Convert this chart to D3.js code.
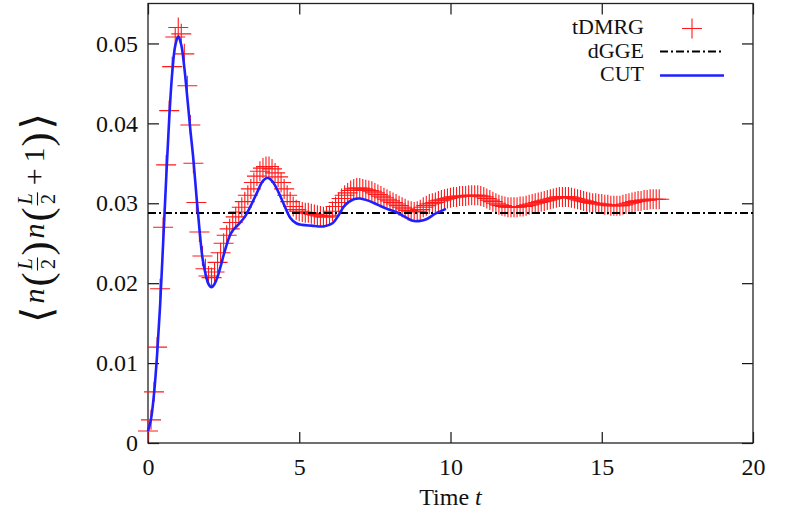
<!DOCTYPE html>
<html>
<head>
<meta charset="utf-8">
<script src="https://cdn.jsdelivr.net/npm/d3@7"></script>
<style>
  body { margin: 0; background: #fff; }
  text { font-family: "Liberation Serif", "DejaVu Serif", serif; fill: #111; }
</style>
</head>
<body>
<svg id="chart" width="787" height="516"></svg>
<script>
// tDMRG samples, one every 0.1 in time starting at t = 0
const tdmrgStep = 0.1;
const tdmrgValue = [
  0.0015, 0.0029, 0.0064, 0.0120, 0.0193, 0.0270, 0.0348, 0.0416, 0.0471, 0.0508,
  0.0520, 0.0512, 0.0487, 0.0447, 0.0398, 0.0350, 0.0301, 0.0264, 0.0234, 0.0218,
  0.0209, 0.0207, 0.0214, 0.0226, 0.0238, 0.0250, 0.0260, 0.0268, 0.0276, 0.0283,
  0.0289, 0.0295, 0.0302, 0.0310, 0.0318, 0.0326, 0.0334, 0.0340, 0.0344, 0.0346,
  0.0346, 0.0343, 0.0338, 0.0333, 0.0326, 0.0318, 0.0310, 0.0302, 0.0296, 0.0292,
  0.0290, 0.0289, 0.0288, 0.0288, 0.0287, 0.0286, 0.0285, 0.0284, 0.0283, 0.0283,
  0.0285, 0.0290, 0.0296, 0.0301, 0.0306, 0.0310, 0.0313, 0.0316, 0.0318, 0.0319,
  0.0319, 0.0318, 0.0317, 0.0316, 0.0315, 0.0313, 0.0311, 0.0309, 0.0307, 0.0305,
  0.0303, 0.0301, 0.0299, 0.0297, 0.0295, 0.0293, 0.0291, 0.0290, 0.0289, 0.0290,
  0.0292, 0.0295, 0.0297, 0.0299, 0.0300, 0.0301, 0.0303, 0.0304, 0.0305, 0.0306,
  0.0307, 0.0308, 0.0308, 0.0309, 0.0309, 0.0309, 0.0310, 0.0310, 0.0310, 0.0310,
  0.0309, 0.0308, 0.0306, 0.0304, 0.0302, 0.0300, 0.0298, 0.0297, 0.0296, 0.0295,
  0.0295, 0.0295, 0.0295, 0.0296, 0.0296, 0.0297, 0.0298, 0.0299, 0.0300, 0.0301,
  0.0302, 0.0303, 0.0304, 0.0305, 0.0306, 0.0307, 0.0308, 0.0308, 0.0308, 0.0308,
  0.0307, 0.0306, 0.0305, 0.0304, 0.0303, 0.0302, 0.0301, 0.0300, 0.0300, 0.0299,
  0.0299, 0.0298, 0.0298, 0.0297, 0.0297, 0.0297, 0.0297, 0.0298, 0.0299, 0.0300,
  0.0301, 0.0302, 0.0303, 0.0303, 0.0304, 0.0304, 0.0305, 0.0305, 0.0305, 0.0305
];

const cutTime = [
  0, 0.1, 0.2, 0.3, 0.4, 0.5, 0.6, 0.7, 0.8, 0.9,
  1.0, 1.1, 1.2, 1.3, 1.4, 1.5, 1.6, 1.7, 1.8, 1.9,
  2.0, 2.1, 2.2, 2.3, 2.4, 2.5, 2.6, 2.7, 2.8, 2.9,
  3.0, 3.2, 3.4, 3.6, 3.8, 3.95, 4.1, 4.3, 4.5, 4.7,
  4.9, 5.1, 5.4, 5.8, 6.1, 6.3, 6.5, 6.8, 7.0, 7.3,
  7.6, 7.9, 8.2, 8.5, 8.75, 9.0, 9.2, 9.5, 9.85
];
const cutValue = [
  0.0015, 0.0030, 0.0062, 0.0110, 0.0172, 0.0250, 0.0330, 0.0405, 0.0463, 0.0497,
  0.0509, 0.0498, 0.0470, 0.0432, 0.0392, 0.0355, 0.0310, 0.0268, 0.0232, 0.0212,
  0.0199, 0.0195, 0.0199, 0.0208, 0.0221, 0.0235, 0.0248, 0.0259, 0.0266, 0.0270,
  0.0274, 0.0283, 0.0297, 0.0313, 0.0328, 0.0332, 0.0328, 0.0315, 0.0298, 0.0282,
  0.0275, 0.0273, 0.0272, 0.0271, 0.0275, 0.0285, 0.0297, 0.0305, 0.0306, 0.0303,
  0.0298, 0.0293, 0.0289, 0.0283, 0.0278, 0.0278, 0.0280, 0.0287, 0.0293
];

// dGGE constant
const dggeValue = 0.02879;

const xTicks = [0, 5, 10, 15, 20];
const yTicks = [0, 0.01, 0.02, 0.03, 0.04, 0.05];
const legendLabels = ['tDMRG', 'dGGE', 'CUT'];

const width = 787;
const height = 516;
const margin = { top: 3.5, right: 34, bottom: 73, left: 148 };
const tickLen = 11;

const svg = d3.select('#chart');

const x = d3.scaleLinear().domain([0, 20]).range([margin.left, width - margin.right]);
const y = d3.scaleLinear().domain([0, 0.055]).range([height - margin.bottom, margin.top]);

// axes, ticks pointing inward and mirrored on top / right
const xAxis = d3.axisBottom(x).tickValues(xTicks).tickSizeInner(-tickLen).tickSizeOuter(0).tickPadding(15);
const yAxis = d3.axisLeft(y).tickValues(yTicks).tickSizeInner(-tickLen).tickSizeOuter(0).tickPadding(10)
  .tickFormat((d) => d === 0 ? '0' : d3.format('.2f')(d));

svg.append('g').attr('transform', 'translate(0,' + y(0) + ')').call(xAxis);
svg.append('g').attr('transform', 'translate(' + x(0) + ',0)').call(yAxis);
svg.append('g').attr('transform', 'translate(0,' + y.range()[1] + ')')
  .call(d3.axisTop(x).tickValues(xTicks).tickSizeInner(-tickLen).tickSizeOuter(0).tickFormat(''));
svg.append('g').attr('transform', 'translate(' + x(20) + ',0)')
  .call(d3.axisRight(y).tickValues(yTicks).tickSizeInner(-tickLen).tickSizeOuter(0).tickFormat(''));

svg.selectAll('.domain').remove();
svg.selectAll('.tick line').attr('stroke', '#111').attr('stroke-width', 1.2);
svg.selectAll('.tick text').attr('font-family', '"Liberation Serif", serif').attr('font-size', 24).attr('fill', '#111');

// frame
svg.append('rect')
  .attr('x', x(0)).attr('y', y.range()[1])
  .attr('width', x(20) - x(0)).attr('height', y(0) - y.range()[1])
  .attr('fill', 'none').attr('stroke', '#222').attr('stroke-width', 1.3);

// tDMRG crosses
const crossHalf = 10;
function crossPath(cx, cy) {
  return 'M' + (cx - crossHalf) + ',' + cy + 'h' + (2 * crossHalf) +
    'M' + cx + ',' + (cy - crossHalf) + 'v' + (2 * crossHalf);
}
svg.append('g')
  .selectAll('path')
  .data(tdmrgValue)
  .join('path')
  .attr('d', (d, i) => crossPath(x(i * tdmrgStep), y(d)))
  .attr('stroke', '#ff1a1a')
  .attr('stroke-width', 1.1)
  .attr('fill', 'none');

// dGGE line
svg.append('line')
  .attr('x1', x(0)).attr('x2', x(20))
  .attr('y1', y(dggeValue)).attr('y2', y(dggeValue))
  .attr('stroke', '#000').attr('stroke-width', 2)
  .attr('stroke-dasharray', '8,3,2,3');

// CUT line
const cutLine = d3.line()
  .x((d, i) => x(cutTime[i]))
  .y((d) => y(d))
  .curve(d3.curveCatmullRom.alpha(0.5));
svg.append('path')
  .datum(cutValue)
  .attr('d', cutLine)
  .attr('fill', 'none')
  .attr('stroke', '#1f1fff')
  .attr('stroke-width', 2.6)
  .attr('stroke-linejoin', 'round');

// legend
const legendX = 644;
const legendY = [34, 57.5, 80.5];
const legend = svg.append('g');
legendLabels.forEach((label, i) => {
  legend.append('text')
    .attr('x', legendX).attr('y', legendY[i])
    .attr('text-anchor', 'end')
    .attr('font-size', 22)
    .text(label);
});
legend.append('path').attr('d', crossPath(692, legendY[0] - 5.5))
  .attr('stroke', '#ff1a1a').attr('stroke-width', 1.1);
legend.append('line')
  .attr('x1', 660).attr('x2', 724).attr('y1', legendY[1] - 6).attr('y2', legendY[1] - 6)
  .attr('stroke', '#000').attr('stroke-width', 2).attr('stroke-dasharray', '8,3,2,3');
legend.append('line')
  .attr('x1', 660).attr('x2', 724).attr('y1', legendY[2] - 5).attr('y2', legendY[2] - 5)
  .attr('stroke', '#1f1fff').attr('stroke-width', 2.6);

// x label
const xlab = svg.append('text')
  .attr('x', (x(0) + x(20)) / 2).attr('y', 505)
  .attr('text-anchor', 'middle')
  .attr('font-size', 24);
xlab.append('tspan').text('Time ');
xlab.append('tspan').attr('font-style', 'italic').text('t');

// y label: <n(L/2) n(L/2+1)>, laid out piece by piece, then rotated
const ylab = svg.append('g');
const pieces = [
  { t: '\u27E8', size: 42, dy: 7, font: '"DejaVu Serif", serif', gap: 3 },
  { t: 'n', size: 30, italic: true, gap: 2 },
  { t: '(', size: 42, dy: 7, gap: 1 },
  { frac: ['L', '2'], gap: 1 },
  { t: ')', size: 42, dy: 7, gap: 3 },
  { t: 'n', size: 30, italic: true, gap: 2 },
  { t: '(', size: 42, dy: 7, gap: 1 },
  { frac: ['L', '2'], gap: 6 },
  { t: '+', size: 30, gap: 6 },
  { t: '1', size: 30, gap: 1 },
  { t: ')', size: 42, dy: 7, gap: 3 },
  { t: '\u27E9', size: 42, dy: 7, font: '"DejaVu Serif", serif', gap: 0 }
];
let cursor = 0;
pieces.forEach((p) => {
  if (p.frac) {
    const num = ylab.append('text').attr('x', cursor).attr('y', -12)
      .attr('font-size', 20).attr('font-style', 'italic').text(p.frac[0]);
    const den = ylab.append('text').attr('x', cursor).attr('y', 11)
      .attr('font-size', 20).text(p.frac[1]);
    const w = Math.max(num.node().getComputedTextLength(), den.node().getComputedTextLength()) + 4;
    num.attr('x', cursor + (w - num.node().getComputedTextLength()) / 2);
    den.attr('x', cursor + (w - den.node().getComputedTextLength()) / 2);
    ylab.append('line').attr('x1', cursor + 1).attr('x2', cursor + w - 1)
      .attr('y1', -6.5).attr('y2', -6.5).attr('stroke', '#111').attr('stroke-width', 1.1);
    cursor += w + p.gap;
  } else {
    const t = ylab.append('text').attr('x', cursor).attr('y', p.dy || 0)
      .attr('font-size', p.size)
      .attr('font-style', p.italic ? 'italic' : 'normal')
      .text(p.t);
    if (p.font) t.attr('font-family', p.font);
    cursor += t.node().getComputedTextLength() + p.gap;
  }
});
ylab.attr('transform', 'translate(44,' + (218 + cursor / 2) + ') rotate(-90)');
</script>
</body>
</html>
